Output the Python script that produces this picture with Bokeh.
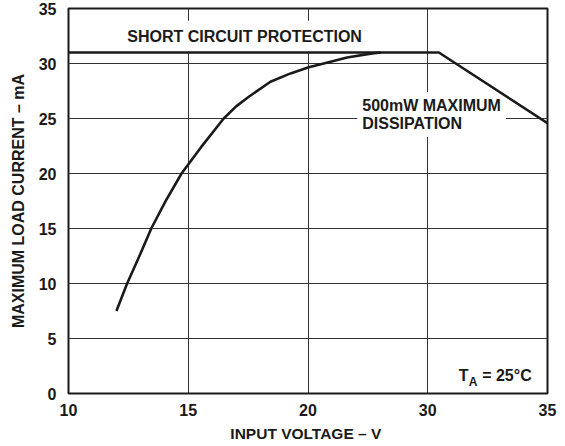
from bokeh.plotting import figure
from bokeh.models import Label, FixedTicker, Range1d
from bokeh.embed import file_html
from bokeh.resources import INLINE

# x axis: equally spaced divisions labelled as in the reference
x_tick_pos = [10, 16.25, 22.5, 28.75, 35]
x_tick_labels = ["10", "15", "20", "30", "35"]
y_ticks = [0, 5, 10, 15, 20, 25, 30, 35]

# load current curve (x in axis units)
curve_x = [12.5, 13.06, 13.69, 14.32, 15.06, 15.9, 16.9, 18.1, 18.75, 19.41, 20.54, 21.59, 22.54, 23.32, 24.54, 25.85, 26.3]
curve_y = [7.5, 10.0, 12.45, 15.0, 17.46, 20.0, 22.35, 25.0, 26.1, 26.98, 28.34, 29.1, 29.65, 30.0, 30.55, 30.92, 31.0]

# short-circuit protection limit and 500 mW dissipation limit
limit_x = [10, 29.33, 35]
limit_y = [31.0, 31.0, 24.57]

FONT = "Liberation Sans"
INK = "#1a1a1a"

p = figure(width=557, height=444, x_range=Range1d(10, 35), y_range=Range1d(0, 35),
           output_backend="svg", toolbar_location=None,
           min_border_left=68, min_border_right=10, min_border_top=8, min_border_bottom=50)

p.outline_line_color = INK
p.outline_line_width = 2
p.background_fill_color = "white"
p.border_fill_color = "white"

p.xaxis.ticker = FixedTicker(ticks=x_tick_pos)
p.xaxis.major_label_overrides = {k: v for k, v in zip(x_tick_pos, x_tick_labels)}
p.yaxis.ticker = FixedTicker(ticks=y_ticks)

for ax in (p.xaxis, p.yaxis):
    ax.axis_line_color = None
    ax.major_tick_line_color = None
    ax.minor_tick_line_color = None
    ax.major_tick_out = 0
    ax.major_tick_in = 0
    ax.major_label_text_font = FONT
    ax.major_label_text_font_style = "bold"
    ax.major_label_text_font_size = "16px"
    ax.major_label_text_color = INK
    ax.axis_label_text_font = FONT
    ax.axis_label_text_font_style = "bold"
    ax.axis_label_text_color = INK

p.xaxis.axis_label_text_font_size = "15.5px"
p.yaxis.axis_label_text_font_size = "16px"
p.xaxis.major_label_standoff = 10
p.yaxis.major_label_standoff = 12
p.xaxis.axis_label = "INPUT  VOLTAGE – V"
p.yaxis.axis_label = "MAXIMUM LOAD CURRENT – mA"
p.xaxis.axis_label_standoff = 6
p.yaxis.axis_label_standoff = 9

p.grid.grid_line_color = "#333333"
p.grid.grid_line_width = 1

p.line(limit_x, limit_y, line_color=INK, line_width=2.6)
p.line(curve_x, curve_y, line_color=INK, line_width=2.6, line_join="round")

p.add_layout(Label(x=19.19, y=32.48, text="SHORT CIRCUIT PROTECTION", text_align="center",
                   text_baseline="middle", text_font=FONT, text_font_style="bold",
                   text_font_size="16px", text_color=INK, level="underlay",
                   background_fill_color="white", padding=7))
p.add_layout(Label(x=25.07, y=27.4, text="500mW MAXIMUM\nDISSIPATION", text_align="left",
                   text_baseline="top", text_font=FONT, text_font_style="bold",
                   text_font_size="16px", text_color=INK, text_line_height=1.05,
                   level="underlay", background_fill_color="white", padding=5))

p.add_layout(Label(x=30.37, y=1.6, text="T", text_align="left", text_baseline="alphabetic",
                   text_font=FONT, text_font_style="bold", text_font_size="16px", text_color=INK))
p.add_layout(Label(x=30.89, y=1.05, text="A", text_align="left", text_baseline="alphabetic",
                   text_font=FONT, text_font_style="bold", text_font_size="12px", text_color=INK))
p.add_layout(Label(x=31.59, y=1.6, text="= 25°C", text_align="left", text_baseline="alphabetic",
                   text_font=FONT, text_font_style="bold", text_font_size="16px", text_color=INK))

open("out.html", "w").write(file_html(p, INLINE))
